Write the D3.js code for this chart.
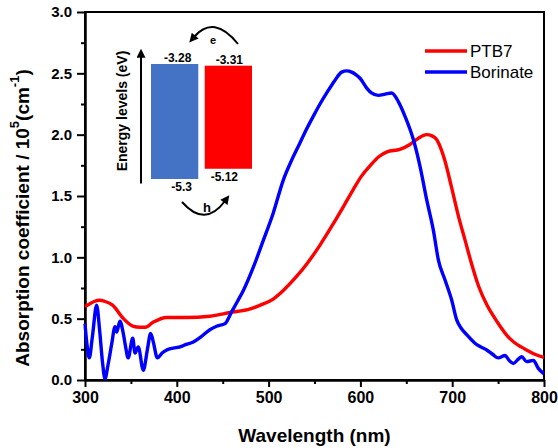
<!DOCTYPE html>
<html>
<head>
<meta charset="utf-8">
<script src="https://cdn.jsdelivr.net/npm/d3@7"></script>
<style>
  body { margin: 0; background: #fff; }
  svg { display: block; font-family: "Liberation Sans", Arial, sans-serif; }
</style>
</head>
<body>
<div id="chart"></div>
<script>
// PTB7 absorption (red)
const ptb7Nm  = [300, 305, 310, 316, 322, 330, 342, 352, 360, 366, 374, 389, 410, 436, 458, 480, 491, 505, 516, 530, 542, 556, 571, 582, 592, 601, 611, 620, 629, 643, 654, 663, 672, 678, 683, 688, 692, 699, 707, 714, 721, 729, 738, 745, 752, 760, 767, 775, 781, 790, 800];
const ptb7Val = [0.60, 0.62, 0.64, 0.65, 0.64, 0.61, 0.50, 0.44, 0.43, 0.43, 0.47, 0.51, 0.51, 0.52, 0.55, 0.58, 0.61, 0.66, 0.73, 0.84, 0.95, 1.10, 1.28, 1.42, 1.55, 1.66, 1.75, 1.82, 1.86, 1.88, 1.92, 1.97, 2.00, 1.99, 1.96, 1.88, 1.79, 1.58, 1.33, 1.14, 0.95, 0.76, 0.61, 0.52, 0.44, 0.36, 0.31, 0.27, 0.245, 0.21, 0.185];

// Borinate absorption (blue)
const borNm  = [300, 302, 304.7, 308, 312.7, 316, 319, 321.8, 325, 329, 332.7, 334.5, 338, 341.7, 344, 347, 352, 354.5, 358, 363.5, 368, 371.5, 374.4, 378.8, 384, 389, 396, 403.5, 410, 418, 426, 436, 444, 452.5, 459.8, 466, 472.5, 483.4, 494.3, 505, 516, 525, 534, 541, 548.7, 556, 563.3, 572, 579.6, 585, 590.5, 595, 599.6, 606.9, 612, 619.5, 627, 634, 641.3, 648.6, 657.7, 665, 672.2, 679.5, 684.9, 692.2, 699.5, 704.9, 710, 715.8, 724.8, 731, 737.6, 744, 750.2, 757.5, 762, 766.6, 772, 775.7, 781, 788.4, 793.8, 800];
const borVal = [0.46, 0.30, 0.18, 0.35, 0.61, 0.40, 0.15, 0.01, 0.12, 0.29, 0.435, 0.39, 0.48, 0.38, 0.28, 0.18, 0.34, 0.22, 0.27, 0.08, 0.25, 0.38, 0.31, 0.18, 0.22, 0.245, 0.26, 0.27, 0.29, 0.31, 0.35, 0.41, 0.44, 0.46, 0.557, 0.64, 0.73, 0.92, 1.14, 1.36, 1.63, 1.79, 1.93, 2.04, 2.15, 2.25, 2.34, 2.44, 2.51, 2.52, 2.51, 2.49, 2.46, 2.38, 2.34, 2.32, 2.33, 2.34, 2.27, 2.15, 1.96, 1.74, 1.47, 1.22, 0.98, 0.815, 0.65, 0.49, 0.42, 0.37, 0.30, 0.27, 0.245, 0.21, 0.18, 0.20, 0.16, 0.135, 0.17, 0.19, 0.15, 0.16, 0.095, 0.05];

const xTicks = [300, 400, 500, 600, 700, 800];
const xMinor = [350, 450, 550, 650, 750];
const yTicks = [0, 0.5, 1.0, 1.5, 2.0, 2.5, 3.0];
const yMinor = [0.25, 0.75, 1.25, 1.75, 2.25, 2.75];

const seriesNames = ['PTB7', 'Borinate'];
const seriesColors = ['#ff0000', '#0000ff'];

// inset: energy levels (eV)
const insetNames = ['Borinate', 'PTB7'];
const lumo = [-3.28, -3.31];
const homo = [-5.3, -5.12];
const insetColors = ['#4472c4', '#ff0000'];

const W = 558, H = 448;
const margin = { top: 12, right: 14, bottom: 68, left: 85 };
const iw = W - margin.left - margin.right;
const ih = H - margin.top - margin.bottom;

const svg = d3.select('#chart').append('svg')
    .attr('width', W)
    .attr('height', H);

const g = svg.append('g').attr('transform', `translate(${margin.left},${margin.top})`);

const x = d3.scaleLinear().domain([300, 800]).range([0, iw]);
const y = d3.scaleLinear().domain([0, 3]).range([ih, 0]);

// frame
g.append('rect')
    .attr('width', iw).attr('height', ih)
    .attr('fill', 'none').attr('stroke', '#000').attr('stroke-width', 2);

// axes - majors with labels, minors without
const xAxis = g.append('g').attr('transform', `translate(0,${ih})`)
    .call(d3.axisBottom(x).tickValues(xTicks).tickSize(7).tickSizeOuter(0).tickPadding(5).tickFormat(d3.format('d')));
const xAxisMinor = g.append('g').attr('transform', `translate(0,${ih})`)
    .call(d3.axisBottom(x).tickValues(xMinor).tickSize(4).tickSizeOuter(0).tickFormat(''));
const yAxis = g.append('g')
    .call(d3.axisLeft(y).tickValues(yTicks).tickSize(8).tickSizeOuter(0).tickPadding(5).tickFormat(d3.format('.1f')));
const yAxisMinor = g.append('g')
    .call(d3.axisLeft(y).tickValues(yMinor).tickSize(4).tickSizeOuter(0).tickFormat(''));

[xAxis, xAxisMinor, yAxis, yAxisMinor].forEach(a => {
    a.select('.domain').attr('stroke', '#000').attr('stroke-width', 2);
    a.selectAll('.tick line').attr('stroke', '#000').attr('stroke-width', 2);
});
xAxis.selectAll('.tick text')
    .attr('font-size', 16).attr('font-weight', 'bold').attr('fill', '#000')
    .attr('font-family', '"Liberation Sans", Arial, sans-serif');
yAxis.selectAll('.tick text')
    .attr('font-size', 15).attr('font-weight', 'bold').attr('fill', '#000')
    .attr('font-family', '"Liberation Sans", Arial, sans-serif');

// axis titles
svg.append('text')
    .attr('x', margin.left + iw / 2).attr('y', 442)
    .attr('text-anchor', 'middle')
    .attr('font-size', 19).attr('font-weight', 'bold')
    .text('Wavelength (nm)');

const yTitle = svg.append('text')
    .attr('transform', 'translate(29,218) rotate(-90)')
    .attr('text-anchor', 'middle')
    .attr('font-size', 19).attr('font-weight', 'bold');
yTitle.append('tspan').text('Absorption coefficient / 10');
yTitle.append('tspan').attr('font-size', 13).attr('dy', -10).text('5');
yTitle.append('tspan').attr('dy', 10).text('(cm');
yTitle.append('tspan').attr('font-size', 13).attr('dy', -10).text('-1');
yTitle.append('tspan').attr('dy', 10).text(')');

// curves
const line = d3.line()
    .x(d => x(d[0]))
    .y(d => y(d[1]))
    .curve(d3.curveMonotoneX);

const series = [
    d3.zip(ptb7Nm, ptb7Val),
    d3.zip(borNm, borVal)
];

g.selectAll('.curve')
    .data(series)
    .join('path')
    .attr('class', 'curve')
    .attr('d', line)
    .attr('fill', 'none')
    .attr('stroke', (d, i) => seriesColors[i])
    .attr('stroke-width', 3.4)
    .attr('stroke-linejoin', 'round');

// legend
const legend = svg.append('g').attr('transform', 'translate(425,51)');
legend.selectAll('line')
    .data(seriesNames)
    .join('line')
    .attr('x1', 0).attr('x2', 42)
    .attr('y1', (d, i) => i * 21).attr('y2', (d, i) => i * 21)
    .attr('stroke', (d, i) => seriesColors[i])
    .attr('stroke-width', 3.6);
legend.selectAll('text')
    .data(seriesNames)
    .join('text')
    .attr('x', 45)
    .attr('y', (d, i) => i * 21)
    .attr('dy', '0.36em')
    .attr('font-size', 17)
    .attr('fill', '#000')
    .text(d => d);

// inset energy diagram
const defs = svg.append('defs');
defs.append('marker')
    .attr('id', 'head')
    .attr('viewBox', '0 0 10 10')
    .attr('refX', 2).attr('refY', 5)
    .attr('markerUnits', 'userSpaceOnUse')
    .attr('markerWidth', 11).attr('markerHeight', 9)
    .attr('orient', 'auto')
    .append('path')
    .attr('d', 'M0,0 L10,5 L0,10 Z')
    .attr('fill', '#000');

const eScale = d3.scaleLinear().domain([-3.28, -5.3]).range([64, 179]);
const band = d3.scaleBand().domain(insetNames).range([151, 252]).paddingInner(0.12);

const inset = svg.append('g');
inset.selectAll('rect')
    .data(insetNames)
    .join('rect')
    .attr('x', d => band(d))
    .attr('width', band.bandwidth())
    .attr('y', (d, i) => eScale(lumo[i]))
    .attr('height', (d, i) => eScale(homo[i]) - eScale(lumo[i]))
    .attr('fill', (d, i) => insetColors[i]);

const topDx = [3, 1], botDx = [7, -4];
inset.selectAll('.lumo')
    .data(insetNames)
    .join('text')
    .attr('class', 'lumo')
    .attr('x', (d, i) => band(d) + band.bandwidth() / 2 + topDx[i])
    .attr('y', (d, i) => eScale(lumo[i]) - 2)
    .attr('text-anchor', 'middle')
    .attr('font-size', 12).attr('font-weight', 'bold')
    .text((d, i) => lumo[i]);
inset.selectAll('.homo')
    .data(insetNames)
    .join('text')
    .attr('class', 'homo')
    .attr('x', (d, i) => band(d) + band.bandwidth() / 2 + botDx[i])
    .attr('y', (d, i) => eScale(homo[i]) + 12)
    .attr('text-anchor', 'middle')
    .attr('font-size', 12).attr('font-weight', 'bold')
    .text((d, i) => homo[i]);

// vertical energy arrow
inset.append('line')
    .attr('x1', 141).attr('x2', 141)
    .attr('y1', eScale(-5.38)).attr('y2', 56)
    .attr('stroke', '#000').attr('stroke-width', 2)
    .attr('marker-end', 'url(#head)');
inset.append('text')
    .attr('transform', 'translate(127,111) rotate(-90)')
    .attr('text-anchor', 'middle')
    .attr('font-size', 14).attr('font-weight', 'bold')
    .text('Energy levels (eV)');

// electron transfer arrow (top) and hole transfer arrow (bottom)
inset.append('path')
    .attr('d', 'M238,44 Q214,14 194,37')
    .attr('fill', 'none').attr('stroke', '#000').attr('stroke-width', 2)
    .attr('marker-end', 'url(#head)');
inset.append('text')
    .attr('x', 213).attr('y', 43.5)
    .attr('text-anchor', 'middle')
    .attr('font-size', 11).attr('font-weight', 'bold')
    .text('e');
inset.append('path')
    .attr('d', 'M182,202 Q205,228 225,201')
    .attr('fill', 'none').attr('stroke', '#000').attr('stroke-width', 2)
    .attr('marker-end', 'url(#head)');
inset.append('text')
    .attr('x', 207).attr('y', 211.5)
    .attr('text-anchor', 'middle')
    .attr('font-size', 13).attr('font-weight', 'bold')
    .text('h');
</script>
</body>
</html>
